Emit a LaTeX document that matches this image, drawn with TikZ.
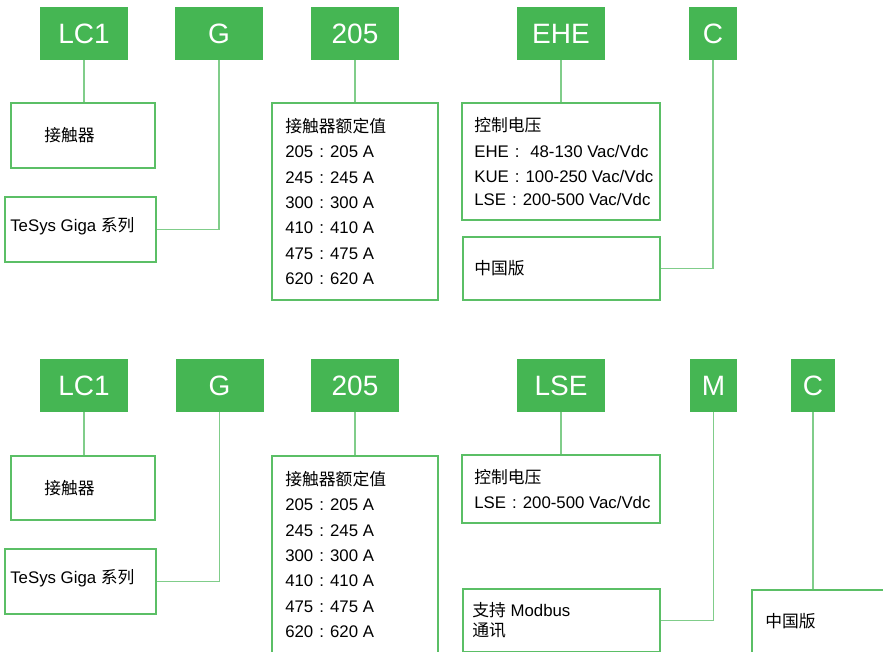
\documentclass[tikz,border=0pt]{standalone}
\usepackage{fontspec}
\setmainfont{Liberation Sans}
\newfontfamily\zhfont{Noto Sans CJK SC}
\newcommand{\zh}[1]{{\zhfont #1}}
\newcommand{\fcolon}{\makebox[1em]{:}}
\usetikzlibrary{positioning}
\definecolor{codegreen}{HTML}{45B653}
\definecolor{boxgreen}{HTML}{5BBF66}
\definecolor{linegreen}{HTML}{80CD8A}

\begin{document}
\begin{tikzpicture}[x=1pt, y=-1pt, inner sep=0pt,
    code/.style={fill=codegreen, text=white, minimum height=53pt, font=\fontsize{28}{28}\selectfont},
    info/.style={draw=boxgreen, line width=1.8pt},
    txt/.style={anchor=west, align=left, font=\fontsize{16.8}{25.4}\selectfont},
    link/.style={linegreen, line width=1.4pt}]
  \useasboundingbox (0,0) rectangle (883,651);
  \clip (0,0) rectangle (883,651);

  % top row: LC1 G 205 EHE C
  \node[code, minimum width=88pt] (lc1) at (84,33.5) {LC1};
  \node[code, minimum width=88pt] (g) at (219,33.5) {G};
  \node[code, minimum width=88pt] (rate) at (355,33.5) {205};
  \node[code, minimum width=88pt] (ehe) at (561,33.5) {EHE};
  \node[code, minimum width=48pt] (c) at (713,33.5) {C};

  \node[info, minimum width=144pt, minimum height=65pt] (jcq) at (83,135.5) {};
  \node[txt, right=34pt of jcq.west] (jcqtxt) {\zh{接触器}};
  \node[info, minimum width=151pt, minimum height=65pt] (tesys) at (80.5,229.5) {};
  \node[txt, right=6pt of tesys.west, yshift=3pt] (tesystxt) {TeSys Giga \zh{系列}};
  \node[info, minimum width=166pt, minimum height=197pt] (ratebox) at (355,201.5) {};
  \node[txt, right=14pt of ratebox.west] (ratetxt) {\zh{接触器额定值}\\205\fcolon 205 A\\245\fcolon 245 A\\300\fcolon 300 A\\410\fcolon 410 A\\475\fcolon 475 A\\620\fcolon 620 A};
  \node[info, minimum width=198pt, minimum height=117pt] (volt) at (561,161.5) {};
  \node[txt, right=13pt of volt.west] (volttxt) {\zh{控制电压}\\EHE\fcolon\ 48-130 Vac/Vdc\\KUE\fcolon 100-250 Vac/Vdc\\[-3pt]LSE\fcolon 200-500 Vac/Vdc};
  \node[info, minimum width=197pt, minimum height=63pt] (cn) at (561.5,268.5) {};
  \node[txt, right=12pt of cn.west] (cntxt) {\zh{中国版}};

  \draw[link] (lc1) -- (lc1 |- jcq.north);
  \draw[link] (g) |- (tesys.east);
  \draw[link] (rate) -- (rate |- ratebox.north);
  \draw[link] (ehe) -- (ehe |- volt.north);
  \draw[link] (c) |- (cn.east);

  % bottom row: LC1 G 205 LSE M C
  \node[code, minimum width=88pt] (lc1b) at (84,385.5) {LC1};
  \node[code, minimum width=88pt] (gb) at (219.5,385.5) {G};
  \node[code, minimum width=88pt] (rateb) at (355,385.5) {205};
  \node[code, minimum width=88pt] (lse) at (561,385.5) {LSE};
  \node[code, minimum width=47pt] (m) at (713.5,385.5) {M};
  \node[code, minimum width=44pt] (cb) at (813,385.5) {C};

  \node[info, minimum width=144pt, minimum height=64pt] (jcqb) at (83,488) {};
  \node[txt, right=34pt of jcqb.west] (jcqbtxt) {\zh{接触器}};
  \node[info, minimum width=151pt, minimum height=65pt] (tesysb) at (80.5,581.5) {};
  \node[txt, right=6pt of tesysb.west, yshift=3pt] (tesysbtxt) {TeSys Giga \zh{系列}};
  \node[info, minimum width=166pt, minimum height=197pt] (rateboxb) at (355,554.5) {};
  \node[txt, right=14pt of rateboxb.west] (ratebtxt) {\zh{接触器额定值}\\205\fcolon 205 A\\245\fcolon 245 A\\300\fcolon 300 A\\410\fcolon 410 A\\475\fcolon 475 A\\620\fcolon 620 A};
  \node[info, minimum width=198pt, minimum height=68pt] (voltb) at (561,489) {};
  \node[txt, right=13pt of voltb.west] (voltbtxt) {\zh{控制电压}\\LSE\fcolon 200-500 Vac/Vdc};
  \node[info, minimum width=197pt, minimum height=63pt] (modbus) at (561.5,620.5) {};
  \node[txt, right=10pt of modbus.west, font=\fontsize{16.8}{20}\selectfont] (modbustxt) {\zh{支持} Modbus\\\zh{通讯}};
  \node[info, minimum width=198pt, minimum height=63pt] (cnb) at (851,621.5) {};
  \node[txt, right=14pt of cnb.west] (cnbtxt) {\zh{中国版}};

  \draw[link] (lc1b) -- (lc1b |- jcqb.north);
  \draw[link] (gb) |- (tesysb.east);
  \draw[link] (rateb) -- (rateb |- rateboxb.north);
  \draw[link] (lse) -- (lse |- voltb.north);
  \draw[link] (m) |- (modbus.east);
  \draw[link] (cb) -- (cb |- cnb.north);
\end{tikzpicture}
\end{document}
